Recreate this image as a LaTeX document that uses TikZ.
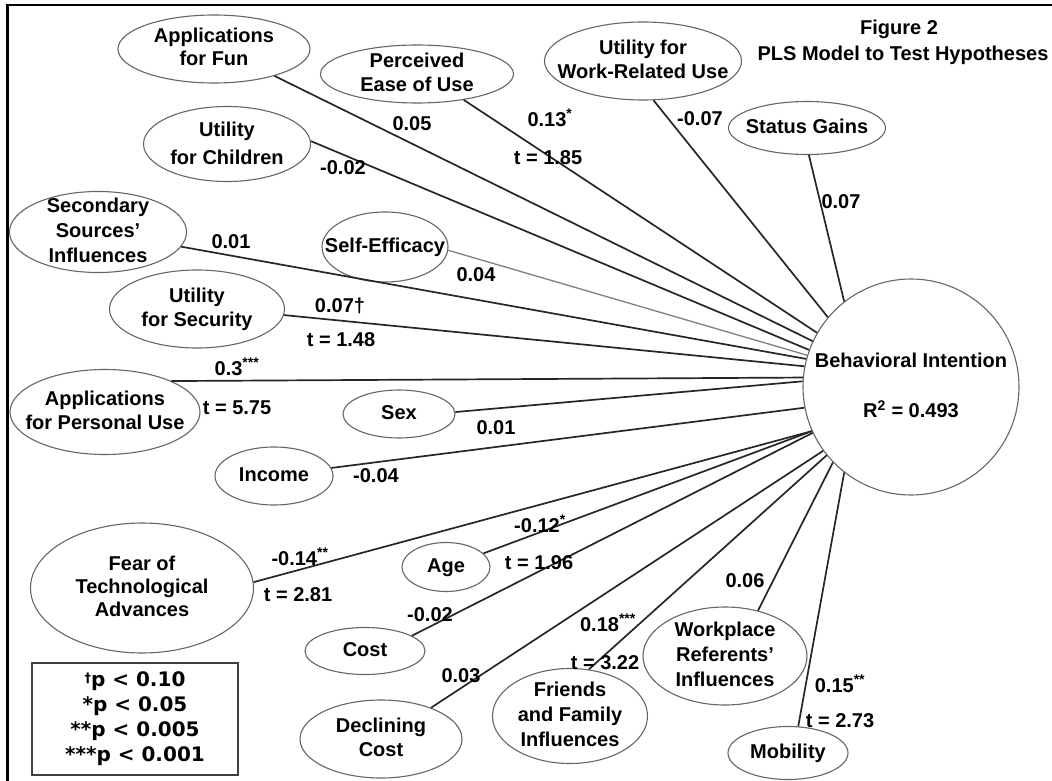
\documentclass[tikz,border=0pt]{standalone}
\usepackage{fontspec}
\setmainfont{Liberation Sans}
\newfontfamily\legendfont{DejaVu Sans}
\usetikzlibrary{shapes.geometric}
\newcommand{\eltext}[2][1]{\smash{\raisebox{-6pt}{\makebox[0pt]{\renewcommand{\arraystretch}{#1}\begin{tabular}{@{}c@{}}#2\end{tabular}}}}}
\begin{document}
\begin{tikzpicture}[x=1pt,y=-1pt,
  every node/.style={font=\fontsize{20}{24}\selectfont\bfseries, text=black},
  ell/.style 2 args={ellipse, draw=black!60, line width=1.1pt, inner sep=0pt,
    minimum width=#1pt, minimum height=#2pt},
  conn/.style={draw=black!85, line width=1.7pt},
  lbl/.style={inner sep=0pt, text height=14.5pt, text depth=0pt}]
\useasboundingbox (0,0) rectangle (1052,781);
\fill[white] (0,0) rectangle (1052,781);
% frame (cropped on right and bottom)
\draw[line width=2.5pt, black] (7.5,781) -- (7.5,5) -- (1052,5);

% title
\node[lbl] (fig) at (899,27) {Figure 2};
\node[lbl] (plstitle) at (903,53) {PLS Model to Test Hypotheses};

% central construct
\node[circle, draw=black!60, line width=1.1pt, minimum size=216pt, inner sep=0pt] (bi) at (911,387)
  {\eltext{Behavioral Intention\\[26pt]R\textsuperscript{2} = 0.493}};

% source constructs
\node[ell={192}{68}] (appfun) at (214,49) {\eltext[0.95]{Applications\\for Fun}};
\node[ell={193}{58}] (peou) at (417,74) {\eltext{Perceived\\Ease of Use}};
\node[ell={197}{78}] (work) at (643,61) {\eltext{Utility for\\Work-Related Use}};
\node[ell={157}{53}] (status) at (807,128) {\eltext{Status Gains}};
\node[ell={167}{75}] (child) at (227,144) {\eltext[1.15]{Utility\\for Children}};
\node[ell={177}{81}] (second) at (98,232) {\eltext[1.04]{Secondary\\Sources'\\Influences}};
\node[ell={126}{70}] (selfeff) at (385,247) {\eltext{Self-Efficacy}};
\node[ell={175}{78}] (security) at (197,309) {\eltext{Utility\\for Security}};
\node[ell={190}{85}] (personal) at (105,412) {\eltext{Applications\\for Personal Use}};
\node[ell={112}{48}] (sex) at (399,414) {\eltext{Sex}};
\node[ell={118}{58}] (income) at (274,476) {\eltext{Income}};
\node[ell={223}{130}] (fear) at (142,588) {\eltext[0.97]{Fear of\\Technological\\Advances}};
\node[ell={88}{49}] (age) at (446,567) {\eltext{Age}};
\node[ell={120}{47}] (cost) at (365,651) {\eltext{Cost}};
\node[ell={162}{78}] (decl) at (381,739) {\eltext{Declining\\Cost}};
\node[ell={155}{95}] (friends) at (570,716) {\eltext[1.04]{Friends\\and Family\\Influences}};
\node[ell={164}{98}] (workplace) at (725,656) {\eltext[1.04]{Workplace\\Referents'\\Influences}};
\node[ell={120}{53}] (mobility) at (788,753) {\eltext{Mobility}};

% paths
\draw[conn] (appfun.-24) -- (bi.155);
\draw[conn] (peou.-29) -- (bi.150);
\draw[conn] (work.-75) -- (bi.140);
\draw[conn] (status.-86) -- (bi.128);
\draw[conn] (child.2) -- (bi.160);
\draw[conn, draw=black!50, line width=1.3pt] (selfeff.-3) -- (bi.163);
\draw[conn] (second.-10) -- (bi.165);
\draw[conn] (security.-4) -- (bi.169);
\draw[conn] (personal.25) -- (bi.175);
\draw[conn] (sex.2) -- (bi.177);
\draw[conn] (income.8) -- (bi.191);
\draw[conn] (fear.3) -- (bi.204);
\draw[conn] (age.20) -- (bi.204);
\draw[conn] (cost.18) -- (bi.205);
\draw[conn] (decl.32) -- (bi.216);
\draw[conn] (friends.68) -- (bi.219);
\draw[conn] (workplace.54) -- (bi.224);
\draw[conn] (mobility.69) -- (bi.232);

% path coefficients
\node[lbl] (l1) at (412,123) {0.05};
\node[lbl] (l2) at (550,119) {0.13\textsuperscript{*}};
\node[lbl] (l3) at (548,157) {t = 1.85};
\node[lbl] (l4) at (700,118) {-0.07};
\node[lbl] (l5) at (841,201) {0.07};
\node[lbl] (l6) at (343,167) {-0.02};
\node[lbl] (l7) at (231,241) {0.01};
\node[lbl] (l8) at (476,274) {0.04};
\node[lbl] (l9) at (340,305) {0.07†};
\node[lbl] (l10) at (341,339) {t = 1.48};
\node[lbl] (l11) at (237,368) {0.3\textsuperscript{***}};
\node[lbl] (l12) at (237,407) {t = 5.75};
\node[lbl] (l13) at (496,427) {0.01};
\node[lbl] (l14) at (376,475) {-0.04};
\node[lbl] (l15) at (300,558) {-0.14\textsuperscript{**}};
\node[lbl] (l16) at (298,594) {t = 2.81};
\node[lbl] (l17) at (540,525) {-0.12\textsuperscript{*}};
\node[lbl] (l18) at (539,562) {t = 1.96};
\node[lbl] (l19) at (430,614) {-0.02};
\node[lbl] (l20) at (461,675) {0.03};
\node[lbl] (l21) at (608,624) {0.18\textsuperscript{***}};
\node[lbl] (l22) at (605,662) {t = 3.22};
\node[lbl] (l23) at (745,580) {0.06};
\node[lbl] (l24) at (840,685) {0.15\textsuperscript{**}};
\node[lbl] (l25) at (840,720) {t = 2.73};

% legend
\node[draw=black!75, line width=2pt, minimum width=206pt, minimum height=112pt, inner sep=0pt,
  align=center, font=\legendfont\fontsize{20}{25}\selectfont\bfseries] (legend) at (135,719)
  {{\fontsize{13}{13}\selectfont\raisebox{4pt}{†}}p < 0.10\\*p < 0.05\\**p < 0.005\\***p < 0.001};
\end{tikzpicture}
\end{document}
